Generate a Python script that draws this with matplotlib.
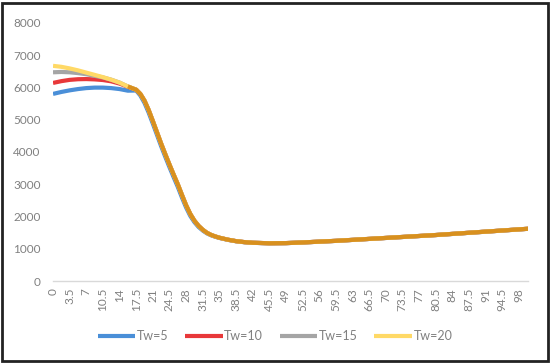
import matplotlib.pyplot as plt
from matplotlib.patches import Rectangle

# x positions of the read points
x_head = [0, 1.75, 3.5, 5.25, 7, 8.75, 10.5, 12.25, 14, 15.75]
x_tail = [17.5, 18.375, 19.25, 20.125, 21, 21.875, 22.75, 23.625, 24.5, 25.375,
          26.25, 27.125, 28, 28.875, 29.75, 30.625, 31.5, 32.375, 33.25, 34.125,
          35, 36.75, 38.5, 40.25, 42, 45.5, 49, 52.5, 56, 59.5, 63, 66.5, 70,
          73.5, 77, 80.5, 84, 87.5, 91, 94.5, 98, 100]

tw5_head = [5800, 5860, 5910, 5950, 5980, 5995, 5995, 5980, 5950, 5900]
tw10_head = [6140, 6195, 6235, 6255, 6260, 6250, 6230, 6190, 6120, 6020]
tw15_head = [6470, 6480, 6470, 6445, 6410, 6360, 6310, 6240, 6150, 6030]
tw20_head = [6670, 6640, 6590, 6530, 6460, 6390, 6320, 6240, 6150, 6030]

# after ~17.5 the four curves lie on top of each other
tail = [5930, 5800, 5590, 5300, 4960, 4610, 4260, 3930, 3610, 3300,
        3000, 2670, 2350, 2080, 1870, 1710, 1590, 1495, 1430, 1382,
        1342, 1282, 1236, 1206, 1186, 1170, 1175, 1195, 1220, 1245, 1275, 1305, 1335,
        1365, 1395, 1425, 1460, 1495, 1530, 1565, 1600, 1620]
tail_tw5 = [5905, 5750, 5520, 5220, 4880, 4530, 4180, 3850, 3530, 3220,
            2920, 2590, 2280, 2020, 1825, 1675, 1565, 1478, 1418, 1373,
            1336, 1278, 1233, 1203, 1184, 1169, 1174, 1194, 1219, 1244, 1274, 1304, 1334,
            1364, 1394, 1424, 1459, 1494, 1529, 1564, 1599, 1619]

labels = ['Tw=5', 'Tw=10', 'Tw=15', 'Tw=20']
colors = ['#4a8fd8', '#e8383a', '#a5a5a5', '#ffd966']
series = [tw5_head + tail_tw5, tw10_head + tail, tw15_head + tail, tw20_head + tail]
tick_vals = [i * 3.5 for i in range(29)]
tick_labels = ['%g' % t for t in tick_vals]

plt.rcParams['font.family'] = ['Lato', 'DejaVu Sans']

fig = plt.figure(figsize=(5.5, 3.64), dpi=100)
ax = fig.add_axes([0.0964, 0.228, 0.864, 0.709])

xs = x_head + x_tail
for s, c, lab in zip(series, colors, labels):
    ax.plot(xs, s, color=c, lw=3, label=lab, solid_capstyle='butt')
# where the curves coincide the overlapping strokes read as orange
ax.plot(x_head[-1:] + x_tail, tw20_head[-1:] + tail, color='#d8901f', lw=3,
        solid_capstyle='butt')

ax.set_xlim(0, 100)
ax.set_ylim(0, 8000)
ax.set_yticks(range(0, 8001, 1000))
ax.set_xticks(tick_vals)
ax.set_xticklabels(tick_labels, rotation=90)
ax.tick_params(axis='both', length=0, labelsize=8.5, colors='#808080')
ax.tick_params(axis='y', pad=9)
ax.tick_params(axis='x', pad=5)
for side in ['top', 'right', 'left']:
    ax.spines[side].set_visible(False)
ax.spines['bottom'].set_color('#d9d9d9')
ax.spines['bottom'].set_linewidth(1)

leg = fig.legend(loc='center', bbox_to_anchor=(0.5, 0.077), ncol=4, frameon=False,
                 fontsize=9, handlelength=3.0, handletextpad=0.15, columnspacing=1.3)
for t in leg.get_texts():
    t.set_color('#808080')

fig.patches.append(Rectangle((0.004, 0.008), 0.992, 0.984, transform=fig.transFigure,
                             fill=False, edgecolor='#222222', lw=2))

fig.savefig('out.png', dpi=100)
